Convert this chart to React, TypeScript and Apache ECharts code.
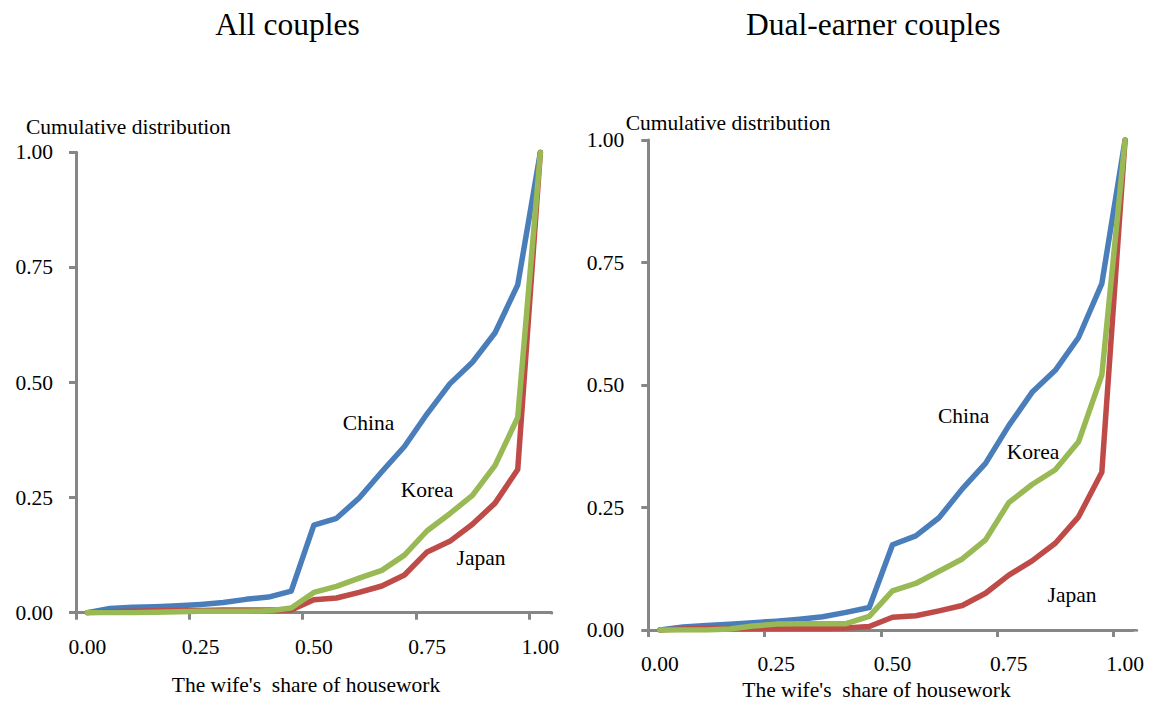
import React, { useEffect, useRef } from "react";
import * as echarts from "echarts";

const categories = [
  "0.00", "0.05", "0.10", "0.15", "0.20", "0.25", "0.30", "0.35", "0.40", "0.45", "0.50",
  "0.55", "0.60", "0.65", "0.70", "0.75", "0.80", "0.85", "0.90", "0.95", "1.00",
];

const allChina = [0, 0.009, 0.012, 0.013, 0.015, 0.018, 0.022, 0.029, 0.034, 0.047, 0.19, 0.205, 0.249, 0.306, 0.361, 0.432, 0.497, 0.544, 0.608, 0.712, 1.0];
const allJapan = [0, 0.002, 0.003, 0.004, 0.005, 0.005, 0.006, 0.006, 0.006, 0.006, 0.028, 0.032, 0.044, 0.058, 0.082, 0.132, 0.155, 0.192, 0.238, 0.311, 1.0];
const allKorea = [0, 0, 0, 0.001, 0.002, 0.003, 0.003, 0.003, 0.004, 0.01, 0.044, 0.057, 0.075, 0.092, 0.125, 0.178, 0.215, 0.255, 0.32, 0.424, 1.0];

const dualChina = [0, 0.006, 0.009, 0.012, 0.015, 0.018, 0.022, 0.027, 0.036, 0.046, 0.174, 0.192, 0.229, 0.288, 0.34, 0.417, 0.485, 0.53, 0.597, 0.707, 1.0];
const dualJapan = [0, 0.002, 0.003, 0.003, 0.003, 0.003, 0.003, 0.003, 0.004, 0.007, 0.026, 0.029, 0.039, 0.05, 0.075, 0.112, 0.141, 0.177, 0.231, 0.322, 1.0];
const dualKorea = [0, 0, 0, 0.002, 0.008, 0.012, 0.013, 0.013, 0.013, 0.028, 0.08, 0.095, 0.12, 0.145, 0.184, 0.26, 0.297, 0.327, 0.384, 0.52, 1.0];

const yTicks = [0, 0.25, 0.5, 0.75, 1.0];

const titles = ["All couples", "Dual-earner couples"];
const yName = "Cumulative distribution";
const xName = "The wife's  share of housework";
const countries = ["China", "Japan", "Korea"];

const FONT = "Liberation Serif, Times New Roman, serif";
const AXIS_COLOR = "#868686";
const COLORS: Record<string, string> = { China: "#4A7EBB", Japan: "#BE4B48", Korea: "#98B954" };

export default function App() {
  const ref = useRef<HTMLDivElement>(null);

  useEffect(() => {
    if (!ref.current) return;
    const chart = echarts.init(ref.current, undefined, { renderer: "svg" });

    const grids = [
      { left: 76, top: 152.3, width: 475.7, height: 460.4 },
      { left: 648.3, top: 140, width: 488.4, height: 490 },
    ];

    const xAxis = [0, 1].map((i) => ({
      type: "category" as const,
      gridIndex: i,
      data: categories,
      boundaryGap: true,
      axisLine: { show: true, lineStyle: { color: AXIS_COLOR, width: 3 } },
      axisTick: { show: true, interval: 4, length: 7, lineStyle: { color: AXIS_COLOR, width: 3 } },
      axisLabel: {
        interval: 4,
        margin: 23,
        color: "#000",
        fontFamily: FONT,
        fontSize: 21.5,
      },
      splitLine: { show: false },
    }));

    const yAxis = [0, 1].map((i) => ({
      type: "value" as const,
      gridIndex: i,
      min: yTicks[0],
      max: yTicks[yTicks.length - 1],
      interval: yTicks[1] - yTicks[0],
      axisLine: { show: true, lineStyle: { color: AXIS_COLOR, width: 3 } },
      axisTick: { show: true, length: 7, lineStyle: { color: AXIS_COLOR, width: 3 } },
      axisLabel: {
        margin: i === 0 ? 23 : 24,
        color: "#000",
        fontFamily: FONT,
        fontSize: 21.5,
        formatter: (v: number) => v.toFixed(2),
      },
      splitLine: { show: false },
    }));

    const dataSets = [
      { China: allChina, Japan: allJapan, Korea: allKorea },
      { China: dualChina, Japan: dualJapan, Korea: dualKorea },
    ];

    const series: any[] = [];
    dataSets.forEach((ds, gi) => {
      countries.forEach((c) => {
        series.push({
          type: "line",
          name: c,
          xAxisIndex: gi,
          yAxisIndex: gi,
          data: (ds as any)[c],
          showSymbol: false,
          symbol: "none",
          lineStyle: { color: COLORS[c], width: 5.5, cap: "round", join: "round" },
          itemStyle: { color: COLORS[c] },
          z: 2,
        });
      });
    });

    const txt = (x: number, y: number, text: string, size: number, align: string = "center") => ({
      type: "text",
      x,
      y,
      style: {
        text,
        fill: "#000",
        fontFamily: FONT,
        fontSize: size,
        align,
        verticalAlign: "middle",
      },
      silent: true,
    });

    // cover the extra closing tick ECharts adds at the far end of a band axis
    const tickCover = (g: { left: number; top: number; width: number; height: number }) => ({
      type: "rect",
      shape: { x: g.left + g.width - 3, y: g.top + g.height + 1.6, width: 6, height: 8 },
      style: { fill: "#fff" },
      silent: true,
      z: 100,
    });

    const graphic = [
      txt(287.5, 24, titles[0], 31.5),
      txt(873.3, 24, titles[1], 31.5),
      txt(26, 126.5, yName, 21.5, "left"),
      txt(625.7, 123, yName, 21.5, "left"),
      txt(306, 685, xName, 21.5),
      txt(876.5, 690, xName, 21.5),
      txt(368.5, 422.5, countries[0], 21.5),
      txt(427, 489.7, countries[2], 21.5),
      txt(481, 558, countries[1], 21.5),
      txt(963.6, 416, countries[0], 21.5),
      txt(1033, 451.7, countries[2], 21.5),
      txt(1072, 595, countries[1], 21.5),
      tickCover(grids[0]),
      tickCover(grids[1]),
    ];

    chart.setOption({
      animation: false,
      backgroundColor: "#fff",
      grid: grids,
      xAxis,
      yAxis,
      series,
      graphic,
    });

    return () => chart.dispose();
  }, []);

  return (
    <div
      ref={ref}
      style={{ position: "fixed", left: 0, top: 0, width: 1151, height: 702, background: "#fff" }}
    />
  );
}
